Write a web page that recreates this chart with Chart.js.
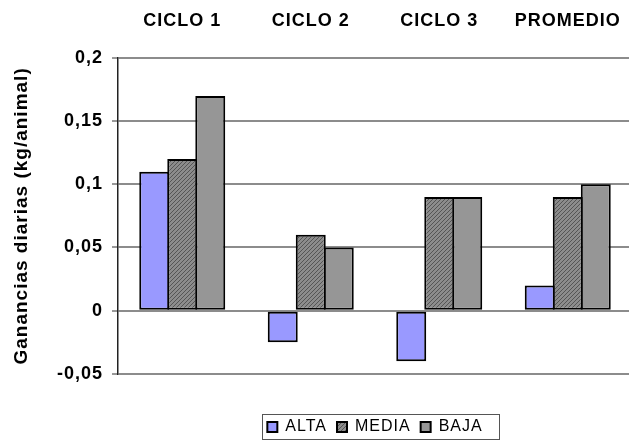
<!DOCTYPE html>
<html lang="es">
<head>
<meta charset="UTF-8" />
<title>Ganancias diarias por ciclo</title>
<script src="https://cdn.jsdelivr.net/npm/chart.js"></script>
<style>
  html, body { margin: 0; padding: 0; background: #fff; overflow: hidden; }
  .grafico { position: relative; width: 632px; height: 445px; }
</style>
</head>
<body>
<div class="grafico">
  <canvas id="grafico"></canvas>
</div>

<script>
    // datos de ganancia diaria (kg/animal) por ciclo y carga
    const ciclos = ['CICLO 1', 'CICLO 2', 'CICLO 3', 'PROMEDIO'];
    const alta = [0.11, -0.025, -0.04, 0.02];
    const media = [0.12, 0.06, 0.09, 0.09];
    const baja = [0.17, 0.05, 0.09, 0.10];
    const ticksY = [-0.05, 0, 0.05, 0.1, 0.15, 0.2];

    const fuente = "'Liberation Sans', Arial, sans-serif";
    Chart.defaults.font.family = fuente;
    Chart.defaults.color = '#000';

    const canvas = document.getElementById('grafico');
    const ctx = canvas.getContext('2d');

    // trama rayada para la serie MEDIA
    function rayado() {
        const c = document.createElement('canvas');
        c.width = 4; c.height = 4;
        const g = c.getContext('2d');
        g.fillStyle = '#8c8c8c';
        g.fillRect(0, 0, 4, 4);
        g.fillStyle = '#555';
        for (let i = 0; i < 4; i++) g.fillRect(3 - i, i, 1, 1);
        return ctx.createPattern(c, 'repeat');
    }

    // texto un poco más espaciado, como en la planilla
    const espaciado = {
        id: 'espaciado',
        beforeLayout(chart) { chart.ctx.letterSpacing = '1px'; },
        beforeDraw(chart) { chart.ctx.letterSpacing = '1px'; }
    };

    // recuadro alrededor de la leyenda
    const marcoLeyenda = {
        id: 'marcoLeyenda',
        afterDraw(chart) {
            const cajas = chart.legend.legendHitBoxes;
            if (!cajas || !cajas.length) return;
            const izq = Math.min(...cajas.map(c => c.left));
            const der = Math.max(...cajas.map(c => c.left + c.width));
            const arriba = cajas[0].top;
            const alto = cajas[0].height;
            const c = chart.ctx;
            c.save();
            c.strokeStyle = '#555';
            c.lineWidth = 1;
            c.strokeRect(Math.round(izq - 5) + 0.5, Math.round(arriba - 5) + 0.5,
                Math.round(der - izq + 22), Math.round(alto + 9));
            c.restore();
        }
    };

    const borde = { borderColor: '#000', borderWidth: 2, borderSkipped: false };

    const dados = {
        labels: ciclos,
        datasets: [
            Object.assign({ label: 'ALTA', data: alta, backgroundColor: '#9999ff' }, borde),
            Object.assign({ label: 'MEDIA', data: media, backgroundColor: rayado() }, borde),
            Object.assign({ label: 'BAJA', data: baja, backgroundColor: '#969696' }, borde)
        ]
    };

    const config = {
        type: 'bar',
        data: dados,
        options: {
            responsive: true,
            maintainAspectRatio: false,
            animation: false,
            layout: { padding: 0 },
            datasets: {
                // barras un poco solapadas para que compartan el borde
                bar: { categoryPercentage: 0.654, barPercentage: 1.07 }
            },
            scales: {
                x: {
                    position: 'top',
                    grid: { display: false, drawTicks: false },
                    border: { display: false },
                    ticks: {
                        font: { size: 18, weight: 'bold' },
                        padding: 26,
                        maxRotation: 0
                    },
                    afterFit(s) {
                        s.height = 58;
                        // sin margen extra a los lados por las etiquetas
                        s.paddingLeft = 0;
                        s.paddingRight = 0;
                    }
                },
                y: {
                    min: -0.05,
                    max: 0.2,
                    afterBuildTicks(s) { s.ticks = ticksY.map(v => ({ value: v })); },
                    grid: {
                        color: '#8c8c8c',
                        lineWidth: 2,
                        tickLength: 6,
                        tickColor: '#333',
                        tickWidth: 1
                    },
                    border: { display: true, color: '#222', width: 1.5 },
                    ticks: {
                        font: { size: 18, weight: 'bold' },
                        padding: 9,
                        callback: v => String(Math.round(v * 100) / 100).replace('.', ',')
                    },
                    title: {
                        display: true,
                        text: 'Ganancias diarias (kg/animal)',
                        font: { size: 19, weight: 'bold' },
                        padding: { top: 10, bottom: 0 }
                    },
                    afterFit(s) {
                        s.width = 118;
                        s.paddingTop = 0;
                        s.paddingBottom = 0;
                    }
                }
            },
            plugins: {
                tooltip: { enabled: false },
                legend: {
                    position: 'bottom',
                    fullSize: false,
                    title: { display: true, text: '', font: { size: 1 }, padding: { top: 34, bottom: 0 } },
                    labels: {
                        boxWidth: 10,
                        boxHeight: 10,
                        padding: 10,
                        color: '#000',
                        font: { size: 16 }
                    }
                }
            }
        },
        plugins: [espaciado, marcoLeyenda]
    };

    const myChart = new Chart(canvas, config);
</script>
</body>
</html>
